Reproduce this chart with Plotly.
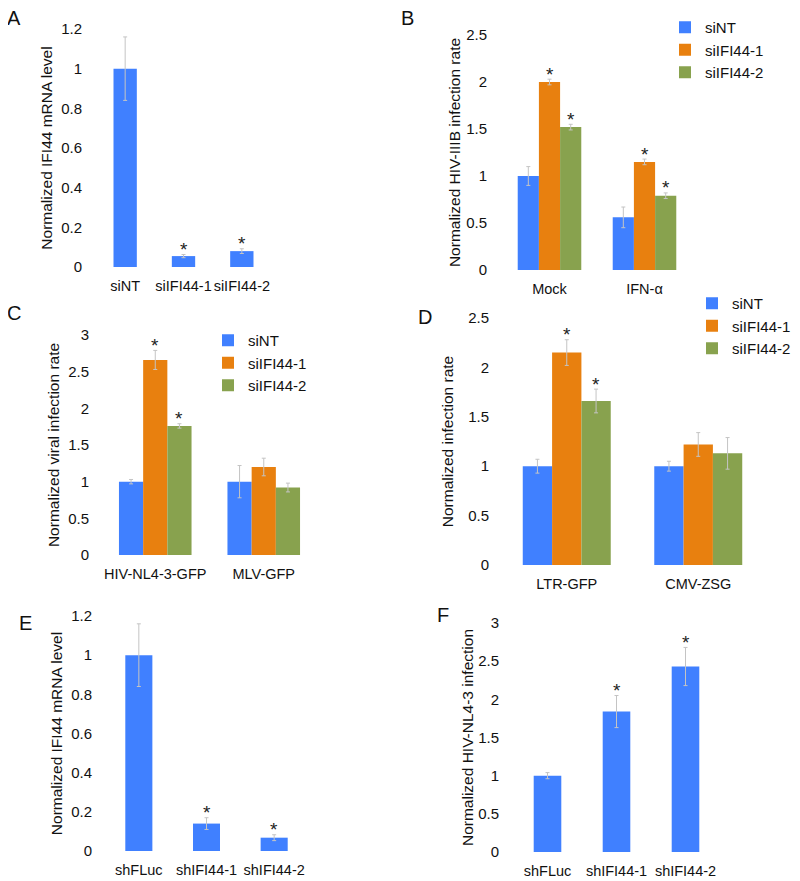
import plotly.graph_objects as go

# the page body keeps its default 8px margin: the figure starts at (8, 8)
# and runs to the right and bottom edges of the 800x881 window
PAGE_W, PAGE_H = 800, 881
PAD = 8
W, H = PAGE_W - PAD, PAGE_H - PAD
FONT = "Liberation Sans, Helvetica, Arial, sans-serif"
BLUE = "#4080ff"
ORANGE = "#e8800f"
GREEN = "#88a24e"

# ---- data ----
# A: IFI44 knockdown (siRNA)
a_cats = ["siNT", "siIFI44-1", "siIFI44-2"]
a_vals = [1.0, 0.055, 0.08]
a_errs = [0.16, 0.008, 0.012]
a_sig = [False, True, True]

# B: HIV-IIIB infection, mock vs IFN-a
b_groups = ["Mock", "IFN-α"]
b_sint = [1.0, 0.56]
b_sint_err = [0.1, 0.11]
b_si1 = [2.0, 1.15]
b_si1_err = [0.03, 0.03]
b_si2 = [1.52, 0.79]
b_si2_err = [0.03, 0.03]
b_sig = [True, True]

# C: viral infection
c_groups = ["HIV-NL4-3-GFP", "MLV-GFP"]
c_sint = [1.0, 1.0]
c_sint_err = [0.03, 0.22]
c_si1 = [2.66, 1.2]
c_si1_err = [0.13, 0.12]
c_si2 = [1.76, 0.92]
c_si2_err = [0.03, 0.06]
c_sig = [True, False]

# D: reporter infection
d_groups = ["LTR-GFP", "CMV-ZSG"]
d_sint = [1.0, 1.0]
d_sint_err = [0.07, 0.05]
d_si1 = [2.15, 1.22]
d_si1_err = [0.13, 0.12]
d_si2 = [1.66, 1.13]
d_si2_err = [0.12, 0.16]
d_sig = [True, False]

# E: IFI44 knockdown (shRNA)
e_cats = ["shFLuc", "shIFI44-1", "shIFI44-2"]
e_vals = [1.0, 0.14, 0.068]
e_errs = [0.16, 0.03, 0.015]
e_sig = [False, True, True]

# F: HIV-NL4-3 infection (shRNA)
f_cats = ["shFLuc", "shIFI44-1", "shIFI44-2"]
f_vals = [1.0, 1.84, 2.43]
f_errs = [0.04, 0.21, 0.25]
f_sig = [False, True, True]

series_names = ["siNT", "siIFI44-1", "siIFI44-2"]
series_colors = [BLUE, ORANGE, GREEN]


def px(x):
    # page pixel -> paper fraction
    return (x - PAD) / W


def py(y):
    return (H - (y - PAD)) / H


fig = go.Figure()
annotations = []


def err(vals):
    return dict(type="data", array=vals, color="#c4c4c4", thickness=1, width=2)


def star(xref, yref, x, y):
    annotations.append(dict(
        x=x, y=y, xref=xref, yref=yref, text="*", showarrow=False,
        yanchor="middle", yshift=5, font=dict(size=19, color="#222")))


def single_panel(n, cats, vals, errs, sig):
    xs = list(range(len(cats)))
    fig.add_trace(go.Bar(
        x=xs, y=vals, width=0.4, offset=-0.2, marker_color=BLUE,
        marker_line_width=0, error_y=err(errs), showlegend=False,
        xaxis="x" + str(n), yaxis="y" + str(n)))
    for x, v, e, s in zip(xs, vals, errs, sig):
        if s:
            star("x" + str(n), "y" + str(n), x, v + e)


def group_panel(n, groups, vals_list, errs_list, sig, legend):
    bw = 0.223
    for i, (name, col, vals, errs) in enumerate(zip(series_names, series_colors, vals_list, errs_list)):
        off = -1.5 * bw + i * bw
        xs = list(range(len(groups)))
        fig.add_trace(go.Bar(
            x=xs, y=vals, width=bw, offset=off, name=name, marker_color=col,
            marker_line_width=0, error_y=err(errs), legend=legend,
            xaxis="x" + str(n), yaxis="y" + str(n)))
        if i > 0:
            for x, v, e, s in zip(xs, vals, errs, sig):
                if s:
                    star("x" + str(n), "y" + str(n), x + off + bw / 2, v + e)


single_panel(1, a_cats, a_vals, a_errs, a_sig)
group_panel(2, b_groups, [b_sint, b_si1, b_si2], [b_sint_err, b_si1_err, b_si2_err], b_sig, "legend")
group_panel(3, c_groups, [c_sint, c_si1, c_si2], [c_sint_err, c_si1_err, c_si2_err], c_sig, "legend2")
group_panel(4, d_groups, [d_sint, d_si1, d_si2], [d_sint_err, d_si1_err, d_si2_err], d_sig, "legend3")
single_panel(5, e_cats, e_vals, e_errs, e_sig)
single_panel(6, f_cats, f_vals, f_errs, f_sig)

# panel geometry (page pixels): x-left, x-right, y-top, y-zero
panels = {
    1: dict(box=(96, 271, 29, 267), cats=a_cats, ymax=1.2, dt=0.2,
            title="Normalized IFI44 mRNA level", ystand=4, xstand=13),
    2: dict(box=(502, 692, 35, 270), cats=b_groups, ymax=2.5, dt=0.5,
            title="Normalized HIV-IIIB infection rate", ystand=1, xstand=14),
    3: dict(box=(101, 318, 335, 555), cats=c_groups, ymax=3, dt=0.5,
            title="Normalized viral infection rate", ystand=4, xstand=11),
    4: dict(box=(501, 764, 318, 565), cats=d_groups, ymax=2.5, dt=0.5,
            title="Normalized infection rate", ystand=10, xstand=11),
    5: dict(box=(105, 308, 616, 851), cats=e_cats, ymax=1.2, dt=0.2,
            title="Normalized IFI44 mRNA level", ystand=4, xstand=12),
    6: dict(box=(513, 720, 623, 852), cats=f_cats, ymax=3, dt=0.5,
            title="Normalized HIV-NL4-3 infection", ystand=0, xstand=13),
}

layout = {}
for n, p in panels.items():
    x0, x1, top, zero = p["box"]
    k = "" if n == 1 else str(n)
    layout["xaxis" + k] = dict(
        domain=[px(x0), px(x1)], anchor="y" + k, range=[-0.5, len(p["cats"]) - 0.5],
        tickvals=list(range(len(p["cats"]))), ticktext=p["cats"], tickangle=0,
        showgrid=False, zeroline=False, showline=False, ticks="",
        ticklabelstandoff=8, tickfont=dict(size=14.5, color="#111"))
    layout["yaxis" + k] = dict(
        domain=[py(zero), py(top)], anchor="x" + k, range=[0, p["ymax"]], dtick=p["dt"],
        showgrid=False, zeroline=False, showline=False, ticks="",
        ticklabelstandoff=p["xstand"], tickfont=dict(size=15, color="#111"),
        title=dict(text=p["title"], standoff=p["ystand"], font=dict(size=15.5, color="#111")))

# panel letters
letters = [("A", 14, 18), ("B", 407, 18), ("C", 14, 313), ("D", 425, 317), ("E", 25, 623), ("F", 443, 615)]
for t, x, y in letters:
    annotations.append(dict(
        x=px(x), y=py(y), xref="paper", yref="paper", text=t, showarrow=False,
        xanchor="center", yanchor="middle", font=dict(size=20, color="#111")))

legend_style = dict(font=dict(size=15, color="#111"), bgcolor="rgba(0,0,0,0)",
                    xanchor="left", yanchor="top", traceorder="normal", itemwidth=30)

fig.update_layout(
    width=W, height=H, margin=dict(l=0, r=0, t=0, b=0, autoexpand=False),
    paper_bgcolor="white", plot_bgcolor="white",
    font=dict(family=FONT, color="#111"),
    showlegend=True,
    legend=dict(x=px(665), y=py(11), **legend_style),
    legend2=dict(x=px(208), y=py(324), **legend_style),
    legend3=dict(x=px(692), y=py(287), **legend_style),
    annotations=annotations,
    **layout,
)

fig.write_html("out.html")
